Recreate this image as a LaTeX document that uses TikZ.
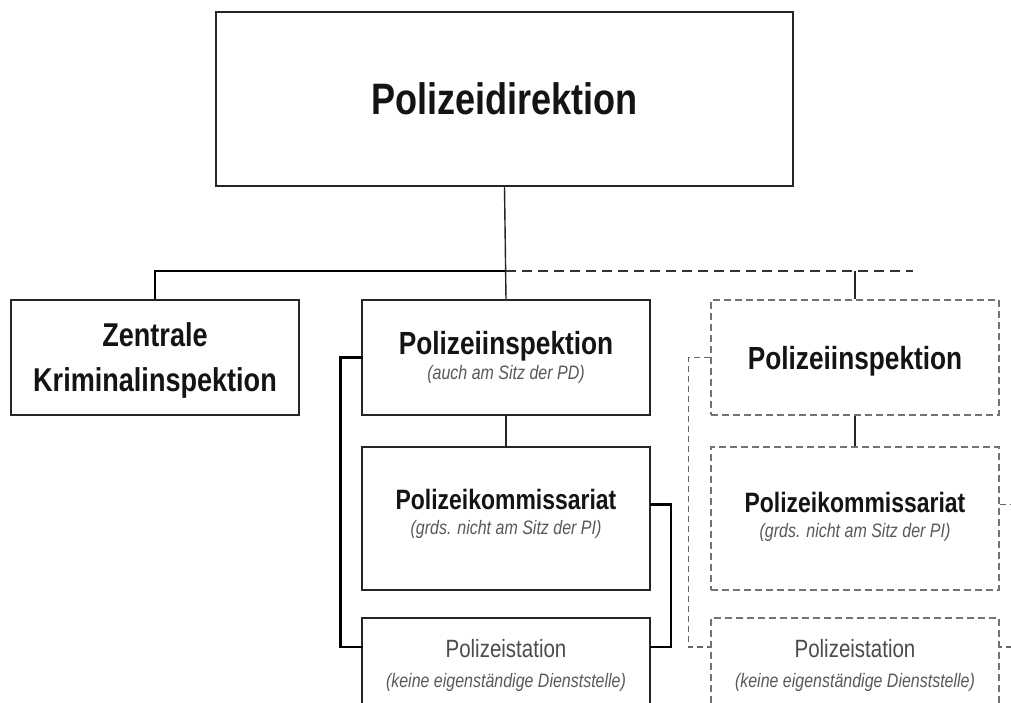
\documentclass[tikz,border=0pt]{standalone}
\usepackage{fontspec}
\setmainfont{Liberation Sans}[FakeStretch=0.82]
\usepackage{xcolor}
\usepackage{tikz}
\usetikzlibrary{positioning,calc}

\newcommand{\subfont}{\fontsize{19.5}{19.5}\selectfont\mdseries\itshape\color{black!65}}

\begin{document}
\begin{tikzpicture}[x=1pt,y=-1pt,
  box/.style={draw=black!85,line width=1.4pt,fill=white,minimum width=288pt,align=center,inner sep=0pt,text=black!92},
  dbox/.style={box,draw=black!55,dash pattern=on 7pt off 4pt},
  head/.style={font={\fontsize{#1}{25}\selectfont\bfseries}},
  station/.style={minimum height=94pt,text=black!70,font={\fontsize{25}{30}\selectfont}},
  link/.style={line width=1.4pt,black!85},
  bus/.style={line width=2.6pt,black},
  dbus/.style={line width=2pt,black!80,dash pattern=on 10pt off 6pt},
  brace/.style={line width=2.4pt,black,line cap=rect},
  dbrace/.style={line width=1.3pt,black!60,dash pattern=on 6pt off 4pt}]
\useasboundingbox (0,0) rectangle (1011,703);
\clip (0,0) rectangle (1011,703);
\fill[white] (0,0) rectangle (1011,703);

% Leitung
\node[box,head=44,minimum width=577pt,minimum height=174pt] (pd) at (504.5,99) {Polizeidirektion};

% erste Ebene
\node[box,minimum height=115pt,text depth=-9pt,font={\fontsize{33}{45}\selectfont\bfseries}] (zki) at (155,357.5)
  {Zentrale\\Kriminalinspektion};
\node[box,head=32,minimum height=115pt] (pi) at (506,357.5)
  {Polizeiinspektion\\{\subfont(auch am Sitz der PD)}};
\node[box,head=28,minimum height=143pt,text depth=14pt] (pk) at (506,518.5)
  {Polizeikommissariat\\{\subfont(grds. nicht am Sitz der PI)}};
\node[box,station] (ps) at (506,665)
  {Polizeistation\\{\subfont(keine eigenständige Dienststelle)}};

% weitere Inspektionen (gestrichelt)
\node[dbox,head=32,minimum height=115pt,text depth=-3pt] (pi2) at (855,357.5) {Polizeiinspektion};
\node[dbox,head=28,minimum height=143pt,text depth=8pt] (pk2) at (855,518.5)
  {Polizeikommissariat\\{\subfont(grds. nicht am Sitz der PI)}};
\node[dbox,station] (ps2) at (855,665)
  {Polizeistation\\{\subfont(keine eigenständige Dienststelle)}};

\coordinate (bus) at (0,271);
\coordinate (busend) at (913,271);
\draw[bus] (zki.north) |- (pi.north |- bus);
\draw[dbus] (pi.north |- bus) -- (busend);
\draw[link] (pd.south) -- (pi.north);
\draw[link] (pi2.north |- bus) -- (pi2.north);
\draw[link] (pi.south) -- (pk.north);
\draw[link] (pi2.south) -- (pk2.north);

\draw[brace] (pi.west) -- ++(-21,0) |- ([yshift=18pt]ps.west);
\draw[brace] ([yshift=14pt]pk.east) -- ++(20,0) |- ([yshift=18pt]ps.east);
\draw[dbrace] (pi2.west) -- ++(-22,0) |- ([yshift=18pt]ps2.west);
\draw[dbrace] ([yshift=14pt]pk2.east) -- ++(20,0) |- ([yshift=18pt]ps2.east);
\end{tikzpicture}
\end{document}
